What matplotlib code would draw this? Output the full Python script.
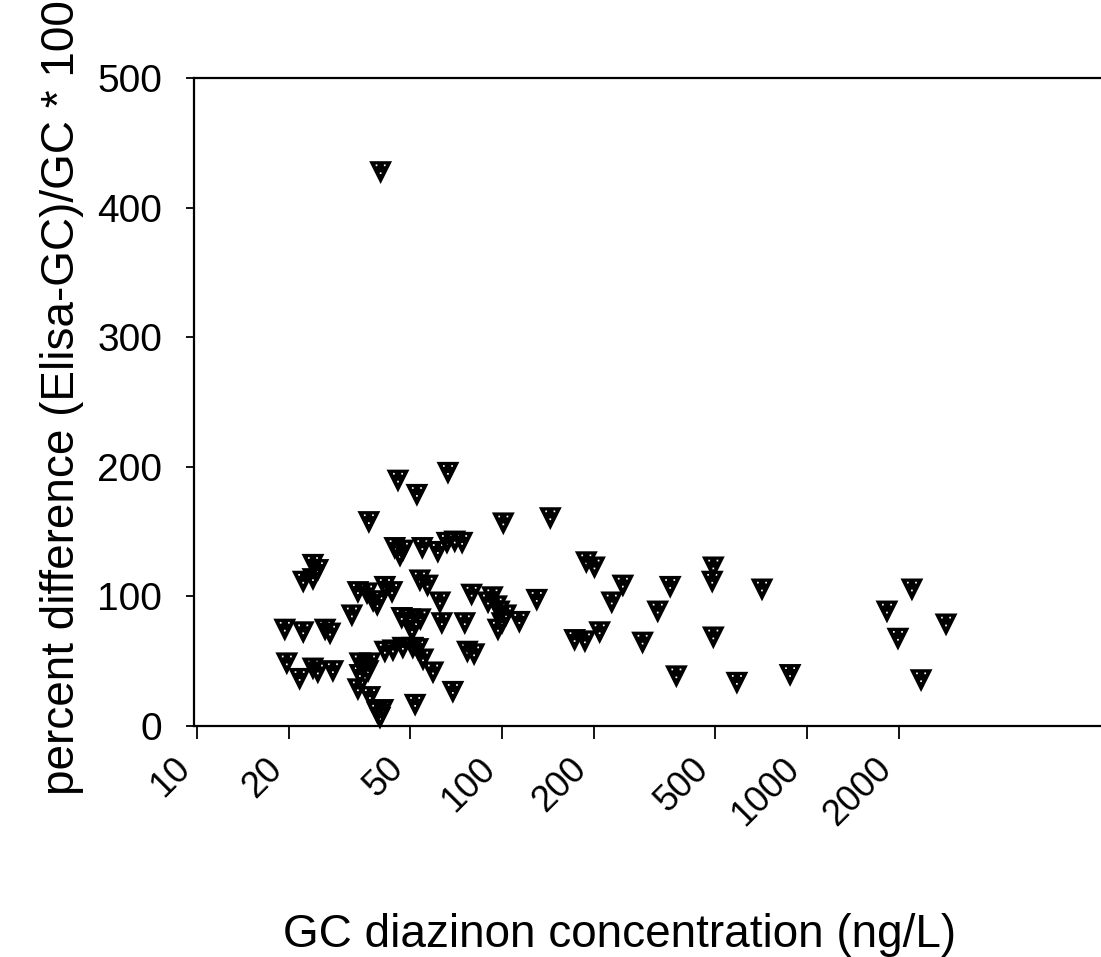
"""Scatter of ELISA vs GC percent difference against GC diazinon concentration."""

import matplotlib
matplotlib.use('Agg')
import matplotlib.pyplot as plt
from matplotlib.path import Path
import numpy as np

# GC diazinon concentration (ng/L)
gc_conc = [
    40.0, 66.5, 45.6, 52.6, 36.6, 44.5, 46.3, 47.3, 54.8, 61.6,
    66.0, 70.0, 74.0, 24.0, 24.9, 22.3, 24.0, 33.7, 36.1, 37.8,
    39.0, 41.3, 43.6, 53.8, 57.0, 62.6, 79.5, 32.2, 46.9, 50.0,
    54.0, 50.7, 63.5, 75.5, 19.4, 22.3, 26.3, 27.3, 19.7, 21.7,
    24.0, 24.9, 27.9, 34.2, 36.9, 34.2, 36.4, 33.7, 36.9, 39.0,
    39.8, 40.7, 41.3, 43.9, 47.3, 51.0, 53.0, 55.1, 59.4, 69.0,
    51.9, 77.0, 81.0, 93.0, 90.0, 96.0, 98.0, 103.0, 100.0, 97.0,
    114.0, 130.0, 101.0, 144.0, 189.0, 201.0, 249.0, 356.0, 493.0, 489.0,
    229.0, 324.0, 173.0, 187.0, 209.0, 289.0, 493.0, 373.0, 712.0, 589.0,
    880.0, 2208.0, 1829.0, 1987.0, 2857.0, 2366.0,
]

# percent difference (Elisa-GC)/GC * 100
pct_diff = [
    427, 195, 189, 178, 157, 137, 131, 135, 137, 134,
    141, 142, 141, 124, 120, 111, 113, 103, 102, 96,
    93, 107, 103, 112, 108, 95, 101, 85, 83, 82,
    82, 73, 79, 79, 74, 72, 74, 71, 48, 36,
    44, 41, 42, 48, 48, 39, 42, 28, 22, 10,
    6, 12, 57, 58, 60, 60, 59, 51, 41, 26,
    16, 57, 55, 99, 95, 92, 88, 85, 79, 74,
    80, 97, 156, 160, 126, 122, 108, 107, 122, 111,
    95, 88, 66, 65, 72, 64, 68, 38, 105, 33,
    39, 105, 88, 67, 78, 35,
]

x_ticks = [10, 20, 50, 100, 200, 500, 1000, 2000]
y_ticks = [0, 100, 200, 300, 400, 500]


def dotted_triangle():
    """Down-pointing triangle with three small holes, like the scanned symbol."""
    verts = [(-1, 1), (1, 1), (0, -1), (-1, 1)]
    codes = [Path.MOVETO, Path.LINETO, Path.LINETO, Path.CLOSEPOLY]
    d = 0.075
    for cx, cy in [(-0.36, 0.64), (0.36, 0.64), (0.0, -0.05)]:
        verts += [(cx - d, cy - d), (cx + d, cy - d), (cx + d, cy + d),
                  (cx - d, cy + d), (cx - d, cy - d)]
        codes += [Path.MOVETO, Path.LINETO, Path.LINETO, Path.LINETO, Path.CLOSEPOLY]
    return Path(verts, codes)


plt.rcParams['font.family'] = ['Liberation Sans', 'DejaVu Sans']

W, H = 1101, 957
fig = plt.figure(figsize=(W / 100, H / 100), dpi=100)
left_px, right_px, top_px, bottom_px = 194, 1101, 78, 726
ax = fig.add_axes([left_px / W, 1 - bottom_px / H,
                   (right_px - left_px) / W, (bottom_px - top_px) / H])

ax.scatter(gc_conc, pct_diff, marker=dotted_triangle(), s=270,
           facecolor='black', edgecolor='none', zorder=3, clip_on=False)

ax.set_xscale('log')
ax.set_xlim(10 * 10 ** (-3 / 305), 10 ** (1 + (right_px - 197) / 305))
ax.set_ylim(0, 500)

ax.set_xticks(x_ticks)
ax.set_xticklabels([str(t) for t in x_ticks], rotation=45, ha='right', va='top')
ax.xaxis.set_minor_locator(matplotlib.ticker.NullLocator())
ax.set_yticks(y_ticks)

ax.tick_params(axis='x', direction='out', length=9, width=1.3, pad=9, labelsize=26)
ax.tick_params(axis='y', direction='out', length=6, width=1.3, pad=17, labelsize=28)

for side in ['left', 'top', 'bottom']:
    ax.spines[side].set_linewidth(1.6)
ax.spines['right'].set_visible(False)

fig.text(62 / W, 1 - 398 / H, 'percent difference (Elisa-GC)/GC * 100',
         rotation=90, ha='center', va='center', fontsize=33)
fig.text(620 / W, 1 - 935 / H, 'GC diazinon concentration (ng/L)',
         ha='center', va='center', fontsize=33)

fig.savefig('out.png', dpi=100)
